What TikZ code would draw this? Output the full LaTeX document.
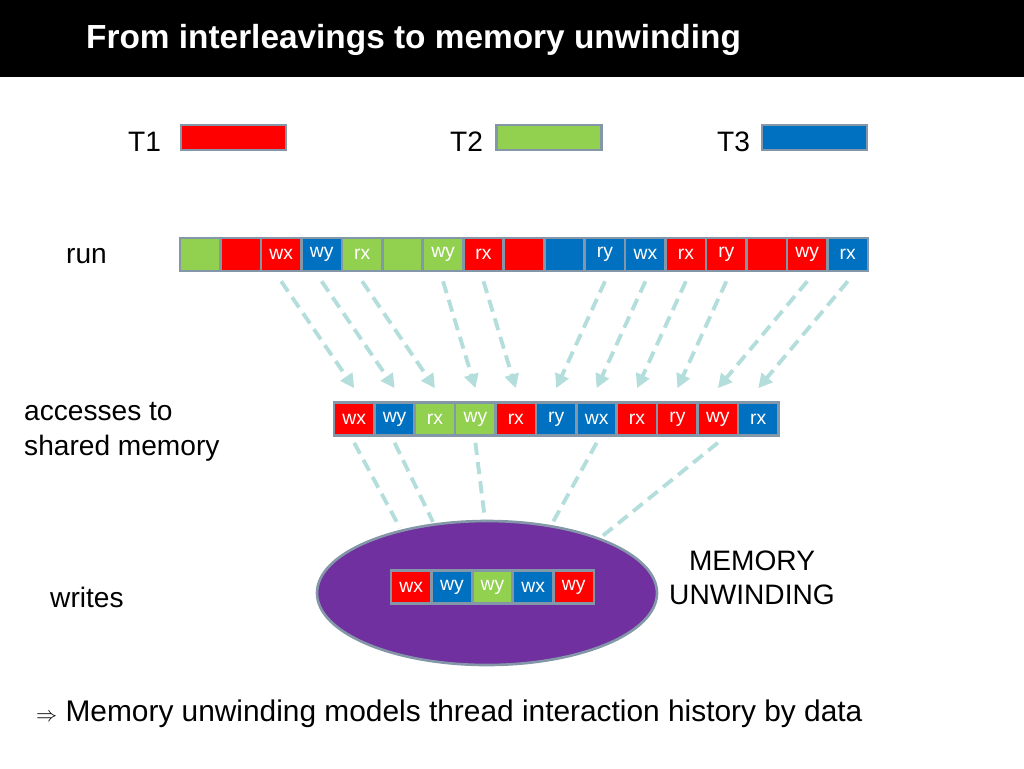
\documentclass[tikz,border=0pt]{standalone}
\usepackage{fontspec}
\setmainfont{Liberation Sans}
\usetikzlibrary{arrows.meta,shapes.geometric}
\definecolor{cR}{HTML}{FF0000}
\definecolor{cB}{HTML}{0070C0}
\definecolor{cG}{HTML}{92D050}
\definecolor{cP}{HTML}{7030A0}
\definecolor{cD}{HTML}{B4DEDC}
\definecolor{cE}{HTML}{8497A8}
\begin{document}
\begin{tikzpicture}[x=0.02cm,y=-0.02cm,
  cell/.style={draw=cE,line width=1.5pt,minimum width=40.5*0.02cm,minimum height=33*0.02cm,inner sep=0pt,text=white,font=\fontsize{11}{11}\selectfont},
  lbl/.style={anchor=west,font=\fontsize{16}{18}\selectfont},
  dl/.style={draw=cD,line width=2.2pt,dash pattern=on 7pt off 4pt},
  da/.style={dl,-{Triangle[length=8pt,width=8pt]}}]
\useasboundingbox (0,0) rectangle (1024,768);
\fill[black] (0,0) rectangle (1024,77);
\node[anchor=west,text=white,font=\bfseries\fontsize{19}{20}\selectfont] (title) at (80,40) {From interleavings to memory unwinding};
% threads
\node[lbl] (t1) at (122,142) {T1};
\node[lbl] (t2) at (444,142) {T2};
\node[lbl] (t3) at (711,142) {T3};
\node[draw=cE,line width=1.5pt,fill=cR,minimum width=105*0.02cm,minimum height=25*0.02cm] (b1) at (233.5,137.5) {};
\node[draw=cE,line width=1.5pt,fill=cG,minimum width=105*0.02cm,minimum height=25*0.02cm] (b2) at (549,137.5) {};
\node[draw=cE,line width=1.5pt,fill=cB,minimum width=105*0.02cm,minimum height=25*0.02cm] (b3) at (814.5,137.5) {};
% run
\node[lbl] (run) at (60,256) {run};
\foreach \i/\c/\t in {1/cG/,2/cR/,3/cR/wx,4/cB/wy,5/cG/rx,6/cG/,7/cG/wy,8/cR/rx,9/cR/,10/cB/,11/cB/ry,12/cB/wx,13/cR/rx,14/cR/ry,15/cR/,16/cR/wy,17/cB/rx}
  \node[cell,fill=\c] (r\i) at ({180+40.47*(\i-0.5)},254.5) {\t};
% accesses
\node[lbl,align=left] (acc) at (18,432) {accesses to\\[2pt]shared memory};
\foreach \i/\c/\t in {1/cR/wx,2/cB/wy,3/cG/rx,4/cG/wy,5/cR/rx,6/cB/ry,7/cB/wx,8/cR/rx,9/cR/ry,10/cR/wy,11/cB/rx}
  \node[cell,fill=\c] (a\i) at ({334+40.4*(\i-0.5)},419) {\t};
% arrows run -> accesses
\foreach \s/\d in {3/1,4/2,5/3,7/4,8/5,11/6,12/7,13/8,14/9,16/10,17/11}{
  \coordinate (s\s) at ([yshift=-9*0.02cm]r\s.south);
  \coordinate (e\d) at ([yshift=13*0.02cm]a\d.north);
  \draw[da] (s\s) -- (e\d);}
% ellipse
\node[draw=cE,line width=1.5pt,fill=cP,ellipse,minimum width=340*0.02cm,minimum height=144*0.02cm] (ell) at (487,593) {};
\foreach \i/\c/\t in {1/cR/wx,2/cB/wy,3/cG/wy,4/cB/wx,5/cR/wy}
  \node[cell,fill=\c] (w\i) at ({391+40.6*(\i-0.5)},587) {\t};
\foreach \d/\x/\y in {1/400/528,2/433/522,4/485/520,7/553/522,10/600/538}{
  \coordinate (f\d) at (\x,\y);
  \draw[dl] ([yshift=-6*0.02cm]a\d.south) -- (f\d);}
\node[lbl] (wr) at (44,597) {writes};
\node[font=\fontsize{16}{19}\selectfont,align=center] (mu) at (752,578) {MEMORY\\UNWINDING};
\node[lbl] (bot) at (30,714) {\fontsize{12}{12}\selectfont$\Rightarrow$\fontsize{17}{18}\selectfont\ Memory unwinding models thread interaction history by data};
\end{tikzpicture}
\end{document}
